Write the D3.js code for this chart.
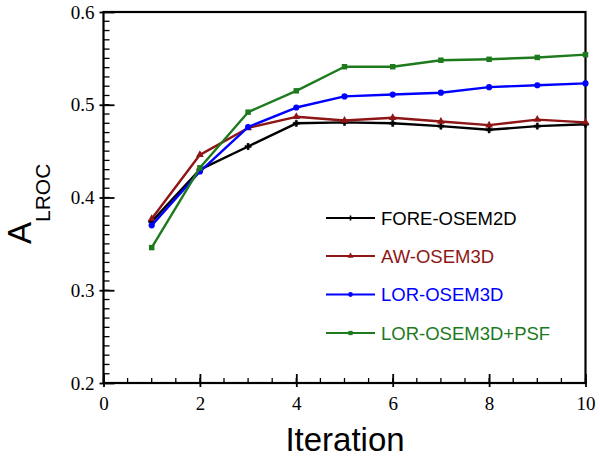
<!DOCTYPE html>
<html><head><meta charset="utf-8">
<script src="https://cdn.jsdelivr.net/npm/d3@7"></script>
<style>body{margin:0;background:#fff}svg{display:block}</style>
</head><body>
<svg id="c" width="600" height="457"></svg>
<script>
const iterations = [1,2,3,4,5,6,7,8,9,10];
const seriesNames = ["FORE-OSEM2D","AW-OSEM3D","LOR-OSEM3D","LOR-OSEM3D+PSF"];
const foreOsem2d = [0.374,0.430,0.455,0.480,0.481,0.480,0.477,0.473,0.477,0.479];
const awOsem3d   = [0.377,0.446,0.475,0.487,0.483,0.486,0.482,0.478,0.484,0.481];
const lorOsem3d  = [0.370,0.428,0.476,0.497,0.509,0.511,0.513,0.519,0.521,0.523];
const lorOsem3dPsf = [0.346,0.432,0.492,0.515,0.541,0.541,0.548,0.549,0.551,0.554];
const xTicks = [0,2,4,6,8,10];
const yTicks = [0.2,0.3,0.4,0.5,0.6];
const colors = ["#000000","#8e1616","#0000ff","#1d7a1d"];
const symbols = [d3.symbolCross, d3.symbolTriangle, d3.symbolCircle, d3.symbolSquare];
const symSizes = [22, 26, 30, 30];

const seriesValues = [foreOsem2d, awOsem3d, lorOsem3d, lorOsem3dPsf];
const svg = d3.select("#c");
const x = d3.scaleLinear().domain([0,10]).range([103.5,585.5]);
const y = d3.scaleLinear().domain([0.2,0.6]).range([383,12]);

// frame
svg.append("rect").attr("x",x(0)).attr("y",y(0.6)).attr("width",x(10)-x(0)).attr("height",y(0.2)-y(0.6))
  .attr("fill","none").attr("stroke","#000").attr("stroke-width",2.2);

// minor ticks
const xMinor = d3.range(0,10.01,0.5);
svg.append("g").selectAll("line").data(xMinor).join("line")
  .attr("x1",d=>x(d)).attr("x2",d=>x(d)).attr("y1",y(0.2)).attr("y2",y(0.2)-5)
  .attr("stroke","#000").attr("stroke-width",1.3);
const yMinor = d3.range(0.2,0.6001,0.01);
svg.append("g").selectAll("line").data(yMinor).join("line")
  .attr("x1",x(0)).attr("x2",x(0)+6).attr("y1",d=>y(d)).attr("y2",d=>y(d))
  .attr("stroke","#000").attr("stroke-width",1.3);

// axes
const xAxis = d3.axisBottom(x).tickValues(xTicks).tickSize(0).tickPadding(14).tickFormat(d3.format("d"));
const gx = svg.append("g").attr("transform",`translate(0,${y(0.2)})`).call(xAxis);
gx.select(".domain").remove();
gx.selectAll(".tick").append("line").attr("y1",4).attr("y2",-9).attr("stroke","#000").attr("stroke-width",1.8);
gx.selectAll("text").attr("font-family","'Liberation Serif','Times New Roman',serif").attr("font-size",19).attr("fill","#000");

const yAxis = d3.axisLeft(y).tickValues(yTicks).tickSize(0).tickPadding(9).tickFormat(d3.format(".1f"));
const gy = svg.append("g").attr("transform",`translate(${x(0)},0)`).call(yAxis);
gy.select(".domain").remove();
gy.selectAll(".tick").append("line").attr("x1",-4).attr("x2",11).attr("stroke","#000").attr("stroke-width",1.8);
gy.selectAll("text").attr("font-family","'Liberation Serif','Times New Roman',serif").attr("font-size",19).attr("fill","#000");

// lines
const line = d3.line().x((d,i)=>x(iterations[i])).y(d=>y(d));
seriesValues.forEach((vals,k)=>{
  svg.append("path").datum(vals).attr("d",line).attr("fill","none")
    .attr("stroke",colors[k]).attr("stroke-width",2.4).attr("stroke-linejoin","round");
  svg.append("g").selectAll("path").data(vals).join("path")
    .attr("transform",(d,i)=>`translate(${x(iterations[i])},${y(d)})`)
    .attr("d",d3.symbol().type(symbols[k]).size(symSizes[k]))
    .attr("fill",colors[k]).attr("stroke",k===0?colors[k]:"none").attr("stroke-width",k===0?0.5:0);
});

// legend
const legY = [218,256,294.5,333];
seriesNames.forEach((name,k)=>{
  const g = svg.append("g").attr("transform",`translate(0,${legY[k]})`);
  g.append("line").attr("x1",326).attr("x2",375).attr("stroke",colors[k]).attr("stroke-width",2);
  g.append("path").attr("transform","translate(350.5,0)").attr("d",d3.symbol().type(symbols[k]).size(symSizes[k]*0.6)).attr("fill",colors[k]);
  g.append("text").attr("x",381).attr("y",0).attr("dy","0.36em").text(name)
    .attr("font-family","'Liberation Sans',Arial,sans-serif").attr("font-size",18.5).attr("fill",colors[k]);
});

// axis titles
svg.append("text").attr("x",345).attr("y",451).attr("text-anchor","middle")
  .attr("font-family","'Liberation Sans',Arial,sans-serif").attr("font-size",33).text("Iteration");
const yt = svg.append("text").attr("transform","translate(31,244) rotate(-90)")
  .attr("font-family","'Liberation Sans',Arial,sans-serif");
yt.append("tspan").attr("font-size",33).text("A");
yt.append("tspan").attr("font-size",21).attr("dy",19).text("LROC");
</script>
</body></html>
